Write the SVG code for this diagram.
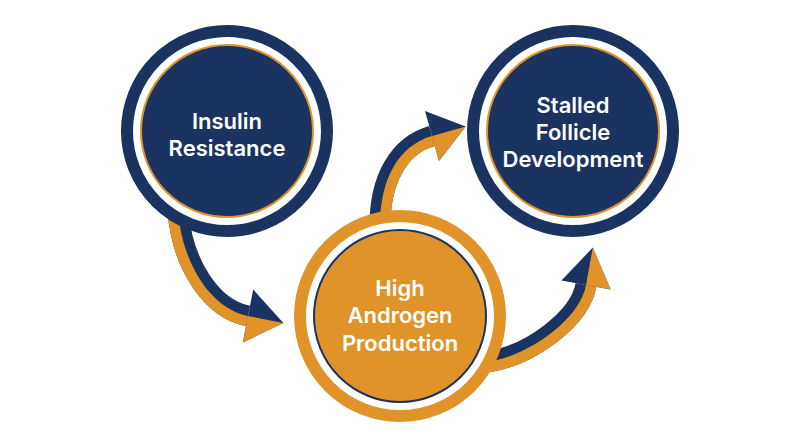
<svg xmlns="http://www.w3.org/2000/svg" width="800" height="447" viewBox="0 0 800 447">
<style>
.navy{fill:#1b3361}
.orange{fill:#df9328}
.band{fill:none;stroke-width:21;stroke-linecap:butt}
.bn{stroke:#1b3361}
.bo{stroke:#df9328}
.ring-n{fill:#ffffff;stroke:#1b3361;stroke-width:12}
.ring-o{fill:#ffffff;stroke:#df9328;stroke-width:12}
.disc-n{fill:#1b3361;stroke:#df9328;stroke-width:2}
.disc-o{fill:#df9328;stroke:#1b3361;stroke-width:2}
.lbl{font-family:Inter,"Liberation Sans",Arial,sans-serif;font-weight:600;font-size:22px;fill:#ffffff;text-anchor:middle}
</style>
<defs>
<clipPath id="c1"><path d="M178,210 C182,265 212,309 248,316 L283.4,322.9 L300,330 L300,447 L0,447 L0,210 Z"/></clipPath>
<clipPath id="c2"><path d="M380,225 C380,180 398.3,145.5 432,136 L465.7,126.6 L500,117 L500,260 L380,260 Z"/></clipPath>
<clipPath id="c3"><path d="M488,362 C530,355 579.7,319.4 586,285 L592.8,247.6 L597,224 L700,224 L700,420 L488,420 Z"/></clipPath>
</defs>
<rect width="800" height="447" fill="#ffffff"/>
<g id="connectors">
<g id="arrow1">
<path class="band bn" d="M178,210 C182,265 212,309 248,316"/>
<polygon class="navy" points="253.2,289.5 283.4,322.9 242.8,342.5"/>
<g clip-path="url(#c1)">
<path class="band bo" d="M178,210 C182,265 212,309 248,316"/>
<polygon class="orange" points="253.2,289.5 283.4,322.9 242.8,342.5"/>
</g>
</g>
<g id="arrow2">
<path class="band bn" d="M380,225 C380,180 398.3,145.5 432,136"/>
<polygon class="navy" points="425,111 465.7,126.6 439,161"/>
<g clip-path="url(#c2)">
<path class="band bo" d="M380,225 C380,180 398.3,145.5 432,136"/>
<polygon class="orange" points="425,111 465.7,126.6 439,161"/>
</g>
</g>
<g id="arrow3">
<path class="band bn" d="M488,362 C530,355 579.7,319.4 586,285"/>
<polygon class="navy" points="561.4,280.5 592.8,247.6 610.6,289.5"/>
<g clip-path="url(#c3)">
<path class="band bo" d="M488,362 C530,355 579.7,319.4 586,285"/>
<polygon class="orange" points="561.4,280.5 592.8,247.6 610.6,289.5"/>
</g>
</g>
</g>
<g id="node-insulin">
<circle class="ring-n" cx="227" cy="131" r="100"/>
<circle class="disc-n" cx="227" cy="131" r="86"/>
<text class="lbl" x="227" y="129">Insulin</text>
<text class="lbl" x="227" y="156">Resistance</text>
</g>
<g id="node-androgen">
<circle class="ring-o" cx="400" cy="316" r="100"/>
<circle class="disc-o" cx="400" cy="316" r="86"/>
<text class="lbl" x="400" y="296">High</text>
<text class="lbl" x="400" y="323">Androgen</text>
<text class="lbl" x="400" y="351">Production</text>
</g>
<g id="node-follicle">
<circle class="ring-n" cx="573" cy="131" r="100"/>
<circle class="disc-n" cx="573" cy="131" r="86"/>
<text class="lbl" x="573" y="113">Stalled</text>
<text class="lbl" x="573" y="140">Follicle</text>
<text class="lbl" x="573" y="167">Development</text>
</g>
</svg>
